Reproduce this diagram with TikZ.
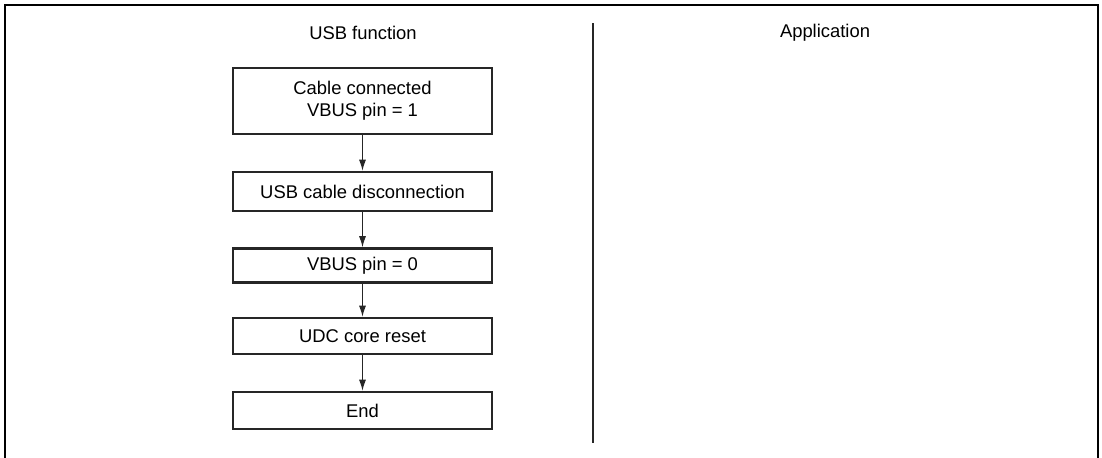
\documentclass[tikz,border=0pt]{standalone}
\usepackage{fontspec}
\setmainfont{Liberation Sans}
\usetikzlibrary{arrows.meta}

\tikzset{
  flowbox/.style={draw=black!85,line width=1.3pt,minimum width=129.5pt,inner sep=0pt,
    align=center,font=\fontsize{9.2}{11}\selectfont},
  flow/.style={-{Latex[length=5.5pt,width=3.5pt]},line width=0.55pt,black!85},
  lanehead/.style={font=\fontsize{9.2}{11}\selectfont}
}

\begin{document}
\begin{tikzpicture}[x=0.5pt,y=-0.5pt]
\clip (0,0) rectangle (1102,457);
\fill[white] (0,0) rectangle (1102,457);
\draw[line width=1.3pt] (5,5) rectangle (1098,480);
\draw[line width=0.7pt,black!85] (593,23)--(593,443);
\node[lanehead] (usb) at (363,33) {USB function};
\node[lanehead] (app) at (825,33) {Application};
\node[flowbox,minimum height=33pt] (conn) at (362.5,101) {Cable connected\\VBUS pin = 1};
\node[flowbox,minimum height=19.5pt] (disc) at (362.5,191.5) {USB cable disconnection};
\node[flowbox,minimum height=17pt] (vbus) at (362.5,265.5) {VBUS pin = 0};
\node[flowbox,minimum height=18pt] (reset) at (362.5,336) {UDC core reset};
\node[flowbox,minimum height=18.5pt] (done) at (362.5,410.5) {End};
\draw[flow] (conn)--(disc);
\draw[flow] (disc)--(vbus);
\draw[flow] (vbus)--(reset);
\draw[flow] (reset)--(done);
\end{tikzpicture}
\end{document}
